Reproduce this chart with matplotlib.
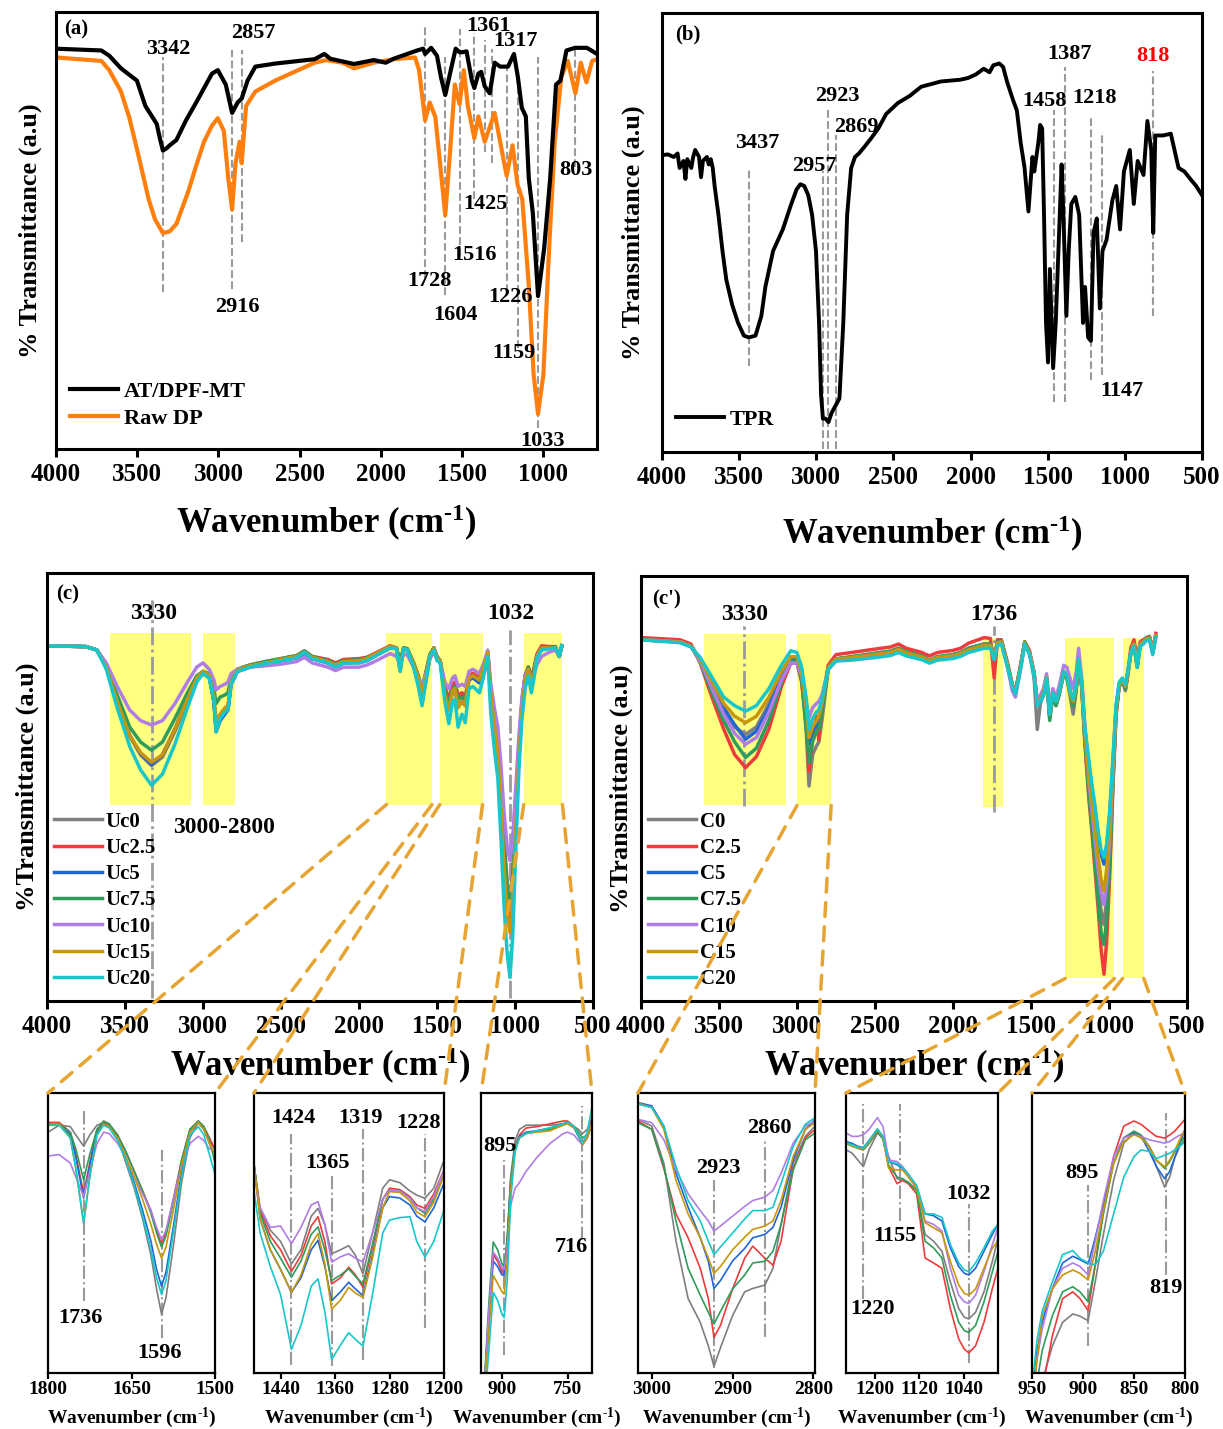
import matplotlib.pyplot as plt
from matplotlib.patches import ConnectionPatch

plt.rcParams['font.family'] = 'Liberation Serif'
plt.rcParams['font.weight'] = 'bold'
plt.rcParams['axes.labelweight'] = 'bold'
plt.rcParams['mathtext.fontset'] = 'custom'
plt.rcParams['mathtext.rm'] = 'Liberation Serif:bold'
plt.rcParams['mathtext.it'] = 'Liberation Serif:bold'
plt.rcParams['mathtext.bf'] = 'Liberation Serif:bold'

XLABEL = 'Wavenumber (cm$^{\u20101}$)'

# ---------------- (a) AT/DPF-MT vs raw DP ----------------
at_wn = [4000, 3721, 3672, 3600, 3502, 3450, 3380, 3360, 3342, 3320, 3300, 3259, 3200, 3137, 3040, 3004,
         2955, 2916, 2882, 2857, 2821, 2773, 2651, 2408, 2348, 2311, 2165, 2044, 1971, 1922, 1777, 1740,
         1728, 1691, 1655, 1630, 1604, 1570, 1540, 1516, 1497, 1473, 1440, 1425, 1400, 1383, 1361, 1330,
         1300, 1266, 1218, 1181, 1157, 1133, 1108, 1090, 1065, 1033, 995, 958, 922, 895, 858, 805, 732, 670]
at_t = [91.6, 91.2, 90, 87.1, 84.3, 78.5, 74.4, 71, 68.3, 68.8, 69.5, 70.7, 75.2, 79.3, 85.9, 86.7,
        83.4, 76.9, 79.3, 80.2, 84.3, 87.5, 88.2, 89.2, 90.4, 89.3, 88.1, 89, 88.4, 89.3, 91.2, 91.6,
        90.4, 91.8, 90, 85, 81, 86.7, 91.6, 90.8, 90.8, 91, 84.3, 82.6, 85.9, 86.3, 83, 81.4,
        88.4, 87.5, 87.5, 90.4, 85.1, 78.1, 76.1, 62, 54, 35, 46, 62, 83.4, 84.3, 91.2, 91.8, 91.8, 90.4]

dp_wn = [4000, 3721, 3672, 3600, 3550, 3502, 3430, 3390, 3342, 3300, 3259, 3186, 3140, 3089, 3040, 3004,
         2967, 2940, 2916, 2895, 2870, 2857, 2830, 2773, 2651, 2408, 2335, 2238, 2165, 2044, 1922, 1790,
         1765, 1728, 1700, 1665, 1604, 1570, 1545, 1516, 1490, 1465, 1425, 1400, 1361, 1300, 1266, 1226,
         1190, 1159, 1130, 1090, 1060, 1033, 1000, 965, 930, 890, 850, 803, 770, 735, 700, 670]
dp_t = [89.6, 88.8, 86.7, 81.8, 76, 68.7, 57.2, 52.5, 49.4, 49.8, 51.5, 58.9, 64.5, 70.3, 74, 75.7,
        72.8, 62.1, 54.8, 65.4, 70.3, 65.4, 78.5, 81.8, 84.3, 88.4, 89, 88.4, 87.1, 88.4, 89.2, 89.6,
        86.7, 75.2, 79.3, 76, 53.5, 70.3, 83.4, 78.9, 86.7, 78.5, 71.1, 76.1, 70.3, 76.9, 70.3, 62.5,
        69.5, 60.5, 57.2, 37.5, 17, 8, 17, 45.7, 70.3, 85.1, 88.8, 81.4, 88.4, 83.9, 88.8, 89.2]

# peak marker lines (wavenumber, top, bottom) and their labels (text, x, y)
a_marks = [(3342, 89.6, 35.9), (2916, 91.2, 36.7), (2857, 91.2, 47.4), (1728, 96.6, 39.2),
           (1604, 89.6, 35.2), (1516, 96.1, 44.1), (1425, 95.3, 57.2), (1361, 93.7, 67.9),
           (1317, 91.6, 65.4), (1226, 87.9, 35.9), (1159, 85.5, 23.2), (1033, 89.6, 4.9),
           (803, 91.6, 64.6)]
a_labels = [('3342', 3307, 91.6), ('2857', 2785, 95.3), ('2916', 2882, 32.6), ('1361', 1335, 96.8),
            ('1317', 1170, 93.3), ('1425', 1356, 56), ('1516', 1424, 44.5), ('1728', 1699, 38.4),
            ('1604', 1541, 30.6), ('1226', 1200, 34.7), ('1159', 1181, 22), ('1033', 1004, 1.9),
            ('803', 800, 63.8)]

# ---------------- (b) TPR ----------------
tpr_wn = [4000, 3962, 3924, 3899, 3886, 3861, 3848, 3836, 3810, 3798,
          3785, 3760, 3747, 3735, 3709, 3697, 3684, 3671, 3659, 3634,
          3608, 3583, 3545, 3507, 3469, 3437, 3394, 3356, 3330, 3280,
          3217, 3166, 3128, 3103, 3078, 3052, 3027, 3002, 2982, 2969,
          2957, 2939, 2921, 2901, 2876, 2850, 2825, 2800, 2774, 2749,
          2724, 2686, 2648, 2598, 2547, 2471, 2395, 2320, 2193, 2067,
          2016, 1966, 1915, 1877, 1852, 1814, 1789, 1764, 1726, 1700,
          1675, 1650, 1625, 1599, 1587, 1561, 1549, 1536, 1524, 1511,
          1498, 1486, 1465, 1448, 1422, 1410, 1397, 1379, 1364, 1347,
          1321, 1296, 1271, 1258, 1238, 1220, 1203, 1182, 1162, 1145,
          1119, 1081, 1056, 1031, 1006, 968, 942, 917, 879, 854,
          829, 816, 803, 753, 702, 652, 614, 576, 538, 500]
tpr_t = [67.6, 67.8, 67.2, 68, 64.7, 66.3, 62.2, 66.7, 64.7, 67.2,
         68.8, 67.2, 62.6, 66.3, 67.2, 65.5, 66.7, 64.7, 60.6, 54,
         45.8, 39.2, 33.5, 29.4, 26.5, 26.1, 26.5, 31, 37.6, 45.8,
         50.7, 56.1, 59.8, 61, 60.6, 58.5, 54, 45.8, 29.4, 13,
         7.6, 7.6, 6.8, 8.9, 10.5, 12.2, 29.4, 54, 64.7, 67.2,
         68, 69.6, 71.3, 73.7, 77, 79.5, 81.1, 83.2, 84.4, 84.8,
         85.2, 86, 87.3, 86.5, 88.1, 88.5, 87.7, 84.4, 80.3, 77.8,
         70.4, 64.7, 54.8, 67.2, 63.9, 70.4, 74.5, 73.7, 54, 29.4,
         20.4, 41.7, 19.1, 29.4, 54, 65.5, 52.4, 31, 45.8, 56.5,
         58.1, 54, 29.4, 37.6, 26.1, 25.3, 49.9, 53.2, 32.7, 45.8,
         48.3, 57.3, 60.6, 50.7, 63.9, 68.8, 56.5, 66.3, 63.1, 75.4,
         68.8, 49.9, 72.1, 72.1, 72.5, 64.7, 63.9, 62.2, 60.6, 58.5]

b_marks = [(3437, 64.7, 19.5), (2957, 63.9, 0.7), (2923, 78.7, 0.7), (2869, 72.1, 0.7),
           (1458, 77.8, 11.3), (1387, 87.7, 11.3), (1218, 76.2, 16.3), (1147, 72.9, 17.5),
           (818, 86.9, 31)]
b_labels = [('3437', 3381, 70.4, 'black'), ('2957', 3014, 65.1, 'black'), ('2923', 2865, 81.1, 'black'),
            ('2869', 2737, 74.1, 'black'), ('1458', 1523, 79.9, 'black'), ('1387', 1359, 90.6, 'black'),
            ('1218', 1195, 80.7, 'black'), ('1147', 1018, 13.8, 'black'), ('818', 816, 90.1, 'red')]

# ---------------- (c) Uc series ----------------
uc_names = ['Uc0', 'Uc2.5', 'Uc5', 'Uc7.5', 'Uc10', 'Uc15', 'Uc20']
c_names = ['C0', 'C2.5', 'C5', 'C7.5', 'C10', 'C15', 'C20']
series_colors = ['#7f7f7f', '#ee3b3b', '#1f66d6', '#2e9c5a', '#b07de6', '#c8960c', '#19c6c9']

wn_c = [4000, 3750, 3680, 3620, 3550, 3470, 3400, 3330, 3260, 3180,
        3100, 3040, 3000, 2960, 2930, 2916, 2890, 2860, 2840, 2820,
        2780, 2700, 2600, 2500, 2400, 2350, 2300, 2200, 2150, 2100,
        2000, 1950, 1900, 1800, 1760, 1736, 1715, 1690, 1650, 1620,
        1596, 1570, 1545, 1520, 1500, 1480, 1450, 1424, 1400, 1385,
        1365, 1340, 1319, 1295, 1270, 1228, 1200, 1175, 1155, 1130,
        1110, 1090, 1070, 1050, 1032, 1015, 995, 975, 955, 935,
        915, 895, 880, 860, 830, 780, 740, 716, 700]
uc0 = [83, 82.8, 82, 78, 70, 62, 57.5, 55, 57, 63,
       70, 75, 76.5, 75.5, 70, 63.5, 66, 67.5, 68, 74,
       77, 78, 78.8, 79.5, 80.2, 81.3, 80, 79, 78, 79,
       79, 79.5, 80.5, 82.5, 82.5, 79.5, 82.3, 82, 78, 74,
       69.5, 75, 80.5, 82.5, 80, 79.5, 73, 69.5, 73.5, 74,
       71.5, 72, 71, 76, 76.5, 75.2, 78, 81.5, 72, 66,
       62, 50, 38, 28, 23, 30, 45, 60, 70, 76,
       78, 75.5, 77, 80.5, 82.5, 82.5, 82.5, 80.5, 83]
uc2_5 = [83, 82.8, 82, 78, 70, 62, 57.8, 55.5, 57.5, 63.5,
         70.5, 75.5, 77, 76, 70, 63.5, 66, 67.5, 68.5, 74.5,
         77.5, 78.5, 79.3, 80, 80.7, 81.8, 80.5, 79.8, 79, 79.8,
         80, 80.3, 81.2, 83, 82.5, 77.5, 82.5, 82.3, 79, 76,
         73, 77, 81, 82.5, 80.5, 79.5, 73.5, 70.5, 74, 74.5,
         71, 72, 70.5, 76, 76.5, 75.5, 78.5, 81.5, 72, 65,
         60, 48, 35, 25, 20, 27, 43, 59, 70, 76,
         78, 76, 77.5, 81, 83, 82.8, 82.8, 80.5, 83]
uc5 = [83, 82.8, 82, 78, 70, 62, 57.8, 55.3, 57.5, 63.5,
       70.5, 75.5, 77, 76, 70, 62.9, 65.5, 67, 68, 74,
       77, 78, 78.8, 79.5, 80.2, 81.3, 80, 79, 78.2, 79,
       79.2, 79.7, 80.7, 82.7, 82.5, 77.8, 82.3, 82, 78.5, 74.5,
       70.5, 75.5, 80.5, 82.5, 80, 79.5, 71.5, 68, 72.5, 73,
       69, 70, 69, 75, 75.5, 74.3, 77.5, 81.5, 71, 64,
       59, 46, 33, 23, 19, 26, 42, 58, 69, 75.5,
       77.5, 75, 76.5, 80.5, 82.5, 82.5, 82.5, 80.5, 83]
uc7_5 = [83, 82.8, 82, 78.5, 71.5, 64, 60.5, 58.6, 60.5, 66,
         72, 76, 77, 76.5, 73, 69.5, 71, 71.5, 72, 75.5,
         77.5, 78.5, 79.3, 80, 80.7, 81.8, 80.5, 79.5, 78.8, 79.5,
         79.7, 80.2, 81, 82.8, 82.5, 79, 82.5, 82.3, 79, 76,
         73, 77, 81, 82.5, 80.5, 79.5, 72.5, 69.5, 73, 73.5,
         70.5, 71, 70, 75.5, 76, 75, 78, 81.5, 72, 65.5,
         61, 49, 36, 26, 22, 29, 44, 59, 70, 76,
         78, 75.5, 77, 80.5, 82.5, 82.5, 82.5, 80.5, 83]
uc10 = [83, 82.8, 82, 79, 73.5, 68, 65.5, 64.5, 65.5, 69.5,
        74.5, 78, 79, 77.5, 75, 72.7, 73.5, 74, 74.5, 76.5,
        77.5, 78, 78.3, 78.7, 79.3, 80.3, 79, 78, 77.2, 78,
        78, 78.5, 79.3, 81.2, 80.5, 78.5, 81, 80.8, 78, 75.5,
        73.5, 76.5, 80, 81.5, 80, 79.5, 74.5, 73, 75.5, 76,
        73.5, 74, 73.5, 77, 77.5, 76.5, 79, 82, 74, 68,
        64, 55, 44, 36, 32.8, 38, 50, 62, 71, 76,
        77.5, 75, 76, 78.5, 80.5, 81.5, 82, 80.5, 83]
uc15 = [83, 82.8, 82, 78, 70, 62, 58, 55.8, 57.5, 63.5,
        70.5, 75.5, 77, 76, 71, 65.5, 67, 68.5, 69, 74.5,
        77.3, 78.3, 79, 79.8, 80.5, 81.5, 80.3, 79.3, 78.5, 79.3,
        79.5, 80, 81, 82.8, 82.5, 77, 82.3, 82, 78.8, 75.5,
        72, 76, 80.5, 82.5, 80, 79.5, 71.5, 68, 72.5, 73,
        68.5, 70, 69, 75.5, 76, 75, 78, 81.5, 71.5, 64,
        58, 45, 31, 20, 16, 24, 40, 57, 68, 75,
        77.5, 74, 76, 80.5, 82.5, 82.5, 82.5, 80.5, 83]
uc20 = [83, 82.8, 82, 77.5, 68.5, 59.5, 54, 50.4, 53, 60,
        68.5, 74.5, 76.5, 75.5, 70, 62.9, 66, 67.5, 68, 74,
        77, 78, 78.8, 79.5, 80.2, 81.5, 80, 79, 78, 79,
        79, 79.5, 80.5, 82.5, 82.3, 77, 82.3, 82, 78, 73.5,
        69, 75, 80.5, 82, 79.5, 79, 70, 64.8, 70, 70.5,
        64, 67, 65, 73, 73.5, 72, 76, 80.5, 67, 58,
        52, 38, 22, 11, 5.5, 15, 35, 54, 66, 73,
        76, 72, 75, 80, 82, 82.3, 82.5, 80.5, 83]

# zoom windows of (c)
ins1_wn = [1800, 1780, 1760, 1750, 1736, 1725, 1712, 1700, 1690, 1675, 1660, 1645,
           1630, 1615, 1605, 1596, 1588, 1575, 1560, 1545, 1530, 1520, 1510, 1500]
ins1_t = [
    [86, 88.5, 88, 85, 81, 85, 88.5, 89.5, 88.5, 84, 75, 66, 55, 42, 30, 21, 27, 45, 68, 84, 89.5, 87, 83, 80],
    [89.5, 89.5, 86, 78, 64, 75, 87, 89.5, 88.5, 85, 79, 72, 65, 58, 51, 46, 50, 62, 76, 87, 90, 88, 84, 80],
    [89, 89, 85, 77, 62.5, 74, 86, 89, 88, 84, 77, 68, 58, 47, 37, 31, 36, 52, 72, 86, 89.5, 87, 82, 78],
    [89, 89, 86, 80, 69, 78, 87, 90, 89, 85, 79, 72, 65, 57, 50, 45, 49, 61, 76, 87, 90, 88, 83, 75],
    [77.5, 78, 75, 70, 63, 72, 82, 86, 85.5, 82, 77, 70, 64, 58, 52, 47.5, 51, 62, 74, 82, 84.5, 83, 80, 80],
    [89, 89, 84, 73, 53.5, 70, 85, 89, 88, 84, 77, 70, 62, 53, 46, 41, 45, 58, 74, 86, 89.5, 87, 82, 78],
    [88.5, 88.5, 84, 73, 53.5, 70, 85, 88.5, 87.5, 83, 76, 67, 56, 44, 34, 28, 33, 50, 70, 85, 88, 85, 78, 71],
]
ins2_wn = [1480, 1470, 1455, 1440, 1424, 1410, 1395, 1385, 1375, 1365, 1352, 1340,
           1330, 1319, 1305, 1290, 1280, 1265, 1250, 1240, 1228, 1215, 1200]
ins2_t = [
    [76, 59, 51, 47, 39, 44, 56, 58.8, 53, 42.6, 44, 45.5, 42, 35.4, 50, 66, 69, 68, 65, 63.5, 62.4, 66, 76],
    [76, 58, 49, 44, 36.3, 42, 52.5, 55.8, 47, 31.8, 34, 37.8, 35, 30.6, 45, 62, 66, 65.5, 63, 60, 58.8, 64, 72.6],
    [77, 55, 44, 37, 28.8, 34, 44, 47.4, 38, 25.8, 29, 32.4, 30, 27.6, 42, 59, 63, 62.5, 60, 56, 54, 59, 67.8],
    [76.5, 57, 47, 41, 34.2, 40, 49.5, 52.2, 44, 33, 35, 37.2, 34.5, 31.8, 46, 62, 65.4, 65, 62.5, 59, 57, 62, 70.8],
    [72, 59, 52, 52.5, 46.2, 52, 60, 61.2, 53, 39.6, 41.5, 42.6, 41, 39.6, 50, 62, 65.4, 65, 62.5, 59, 57.6, 63, 72.6],
    [77, 55, 44, 37, 28.8, 35, 46, 49.8, 39, 22.8, 26, 30.6, 28.5, 27, 41, 59, 64.8, 64.5, 61.5, 57.5, 55.8, 61, 70.8],
    [66.6, 50, 38, 28, 8.4, 17, 31, 33.6, 22, 4.8, 10, 14.4, 12, 9.6, 28, 50, 54.6, 55.5, 55.8, 47, 41.4, 47, 58.2],
]
ins3_wn = [948, 940, 930, 920, 910, 900, 895, 888, 880, 870, 860,
           845, 820, 790, 760, 750, 735, 725, 716, 705, 694]
ins3_t = [
    [-25, -5, 20, 42, 40, 37, 36, 48, 70, 83, 87, 88.5, 88.5, 88.5, 89, 89.5, 88, 87, 85.5, 87, 91],
    [-25, -5, 22, 42.6, 40, 36, 35.4, 47, 68, 81, 85, 87.5, 88, 89, 90, 90, 88, 85, 81.5, 84, 90],
    [-25, -3, 20, 40, 38, 35, 35, 46, 68, 81, 84.5, 86, 86.5, 87.5, 89, 89.5, 87.5, 84.5, 81.6, 84, 89],
    [-25, -2, 25, 46.8, 44, 39, 37.8, 48, 69, 81, 84, 85.5, 86.5, 87, 89, 89.5, 88, 86, 84, 85, 89],
    [-25, -4, 22, 43.2, 41, 37.5, 37, 45, 60, 66, 68, 72, 77, 82, 85.5, 86, 85, 83, 81.6, 84, 89],
    [-25, -8, 15, 34.8, 32, 29, 28.2, 40, 65, 80, 84, 85.5, 86, 86.5, 88.5, 89, 87.5, 85, 81.6, 84, 89],
    [-25, -12, 8, 28.8, 26, 21, 19.8, 33, 62, 79, 84, 85.5, 86.5, 87.5, 89, 89.5, 88, 85, 82, 86, 95],
]

# ---------------- (c') C series ----------------
wn_cp = [4000, 3750, 3680, 3620, 3550, 3470, 3400, 3330, 3260, 3180,
         3100, 3040, 3000, 2970, 2940, 2923, 2900, 2875, 2860, 2840,
         2800, 2750, 2650, 2500, 2400, 2350, 2300, 2200, 2150, 2100,
         2000, 1950, 1900, 1800, 1760, 1736, 1715, 1690, 1650, 1620,
         1600, 1570, 1540, 1510, 1480, 1460, 1440, 1420, 1400, 1380,
         1360, 1340, 1320, 1290, 1270, 1250, 1230, 1210, 1195, 1175,
         1155, 1130, 1110, 1090, 1070, 1050, 1032, 1015, 995, 975,
         955, 935, 915, 895, 880, 860, 840, 819, 800, 780,
         760, 740, 720, 700]
c0 = [85, 84.5, 83.5, 80, 74, 68, 64.5, 62.7, 64.5, 70,
      77, 80.5, 80, 76, 63, 50.6, 58, 60, 61, 66,
      78, 80.5, 81, 81.8, 82.3, 83, 82.2, 81.2, 80.2, 81,
      81.5, 82, 83, 84, 84, 81, 84.5, 84.8, 79, 74,
      72.5, 78, 84.5, 82, 76, 63.9, 70, 72, 76, 66.5,
      72, 69.5, 72, 77, 76, 72, 67.5, 73, 80, 74,
      62, 50, 43, 36, 28, 21, 18, 24, 35, 52,
      68, 74, 75.3, 73, 76.5, 82, 84, 79, 84, 84.5,
      85.3, 85.5, 82, 86]
c2_5 = [85.5, 85, 84, 79.5, 72, 64, 58, 54.9, 57.5, 64,
        74, 79.5, 79.5, 75, 65, 54.1, 62, 67, 61.5, 70,
        79, 81.5, 82, 82.8, 83.3, 84, 83, 82, 81.2, 82,
        82.5, 83, 84.2, 85.5, 85.3, 76, 85, 85, 79.5, 74.5,
        73, 78.5, 84.5, 82.5, 77, 69.8, 71, 72.5, 76, 67,
        72.5, 70, 72.5, 77.5, 76.5, 72.5, 70, 74, 80.5, 74,
        61, 48, 40, 31, 22, 12, 6.3, 14, 30, 50,
        67, 74, 75.5, 73.5, 77, 83, 85, 80.5, 84.5, 85,
        85.5, 85.8, 82.5, 86.5]
c5 = [85, 84.5, 83.5, 80.5, 75, 69, 65, 61.6, 63.5, 69,
      76.5, 80.5, 80.5, 77, 68, 60.4, 63.5, 65, 66, 69,
      78.5, 80.5, 80.8, 81.5, 82, 82.7, 81.9, 80.9, 80, 80.8,
      81.2, 81.7, 82.6, 83.7, 83.6, 80.5, 84.2, 84.5, 79, 74.3,
      72.5, 78, 84.3, 82, 77, 69.8, 71, 72.5, 76.2, 67.5,
      72.5, 70.5, 72.5, 77.5, 76.5, 73, 71, 74.5, 80.5, 75,
      64, 56, 50, 45, 39, 34.5, 32.2, 36, 44, 56,
      69, 74.5, 75.5, 74, 77, 82, 84, 78.5, 84, 84.5,
      85.2, 85.4, 82, 86]
c7_5 = [85, 84.5, 83.5, 79.8, 73, 66, 61, 57.3, 59.5, 66,
        75, 80, 80, 75.5, 64, 56.1, 61, 63.5, 64, 68,
        78.3, 80.5, 81, 81.8, 82.3, 83, 82.2, 81.2, 80.2, 81,
        81.5, 82, 83, 84, 84, 80.8, 84.5, 84.8, 79, 74,
        72.5, 78, 84.5, 82, 77, 69.8, 70.5, 72, 76, 66,
        72, 69.5, 72, 77, 76, 72.5, 69.5, 73.5, 80, 74,
        61.5, 49, 41, 33, 24, 16, 13.3, 19, 32, 51,
        67.5, 74, 75.3, 73.5, 76.5, 82, 84, 79.5, 84, 84.5,
        85.3, 85.5, 82, 86]
c10 = [85, 84.5, 83.5, 80, 74, 67.5, 63, 60.4, 62, 68,
       75.5, 79.5, 79.5, 76.5, 70, 66.7, 69, 70, 70.5, 72,
       78, 80, 80.7, 81.5, 82, 82.7, 81.9, 80.9, 80, 80.8,
       81.2, 81.7, 82.6, 83.7, 83.6, 80.8, 84.2, 84.5, 78.5, 73,
       71.5, 77.5, 84, 82, 77.5, 70.5, 72, 73.5, 77, 69,
       73.5, 71.5, 74, 79, 78.5, 76, 73.5, 77.5, 83, 76,
       65, 52, 45, 38, 31, 25.5, 22.7, 28, 38, 54,
       68.5, 74.5, 75.5, 74, 77, 82, 84, 79.5, 84, 84.5,
       85.2, 85.4, 82, 86]
c15 = [85, 84.5, 83.5, 80.5, 75.5, 70, 67, 65.5, 67, 71.5,
       77.5, 81, 81, 77.5, 69, 62, 64.5, 66, 67, 70,
       78.5, 80.5, 80.8, 81.5, 82, 82.7, 81.9, 80.9, 80, 80.8,
       81.2, 81.7, 82.6, 83.7, 83.6, 80.5, 84.2, 84.5, 79, 74.3,
       72.5, 78, 84.3, 82, 77, 69.8, 71, 72.5, 76.2, 67.5,
       72.5, 70.5, 72.5, 77.5, 76.5, 72.5, 70.5, 74, 80.5, 74.5,
       63, 53, 47, 41, 34, 28.5, 25.9, 31, 40, 55,
       69, 74.5, 75.5, 74, 77, 82, 84, 78.5, 84, 84.5,
       85.2, 85.4, 82, 86]
c20 = [85, 84.3, 83.3, 80.8, 76.5, 71.5, 69.5, 68.2, 69.5, 73.5,
       79, 82.4, 82, 78.5, 71, 63.9, 66.5, 68, 68.5, 71,
       78, 80, 80.2, 80.8, 81.3, 82, 81.2, 80.3, 79.5, 80.2,
       80.6, 81.1, 82, 83, 83, 80.3, 83.6, 84, 78.5, 74,
       72.2, 77.5, 84, 81.5, 76.5, 69.5, 70.5, 72, 76, 67.5,
       72.5, 70.5, 72.5, 77.5, 76.5, 73, 71, 74.5, 80.5, 75,
       64.5, 57, 51, 46, 40, 35.5, 33.7, 37, 45, 57,
       69.5, 75, 76, 74.5, 77.5, 82, 83.5, 78.5, 83.5, 84,
       84.8, 85, 81.5, 85.5]

# zoom windows of (c')
ins4_wn = [3017, 3000, 2985, 2970, 2955, 2940, 2930, 2923, 2915,
           2900, 2885, 2875, 2860, 2850, 2840, 2825, 2810, 2798]
ins4_t = [
    [90.6, 88.2, 74.9, 47.1, 26.6, 18.1, 9.7, 2.4, 9, 20.5, 29, 30.2, 31.4, 37.4, 53.1, 74.9, 84.5, 88.2],
    [90, 87, 73, 56.8, 48.3, 37.4, 26.6, 12.7, 17, 30, 41, 45.3, 41, 38.5, 47, 73, 84, 87],
    [96.6, 95.4, 88.2, 71.3, 59.2, 48.3, 39.9, 30.2, 33, 40, 44.5, 48.3, 49.5, 52, 59.2, 76.1, 87, 90.6],
    [89.4, 87, 73.7, 54.3, 37.4, 27.8, 21.7, 17.5, 22, 30, 35, 39.3, 39.9, 43.5, 53.1, 72.5, 83.3, 85.7],
    [90.6, 89.4, 83.3, 72.5, 64, 58, 54.3, 50.7, 52.5, 56, 59.5, 61.6, 62.8, 65.2, 71.3, 82.1, 88.2, 90],
    [96.4, 94.8, 87, 68.8, 56.8, 48.3, 41.1, 35.6, 38, 44, 48.5, 51.3, 52.5, 54.3, 61.6, 77.3, 87, 89.4],
    [96, 94.8, 88.2, 73.7, 61.6, 54.3, 47.1, 42.3, 45, 50, 55, 58, 58, 59.2, 67.6, 80.9, 88.8, 91.2],
]
ins5_wn = [1251, 1240, 1230, 1220, 1210, 1195, 1185, 1175, 1160, 1150, 1140, 1125,
           1110, 1095, 1080, 1065, 1050, 1040, 1032, 1020, 1005, 990, 980]
ins5_t = [
    [79.7, 78.5, 76.1, 73.7, 79.7, 85.7, 84, 77.3, 69.4, 68.8, 68.2, 65.2, 49.5, 47.1, 43.5, 32.6, 23, 19.9, 19.3, 21.7, 29, 39.9, 48.3],
    [82.7, 81.5, 80.3, 79.7, 82, 86.4, 83.5, 73.7, 67.6, 68.8, 67.6, 64, 41.1, 39.3, 37.4, 23, 12.1, 8.5, 7.2, 9.7, 18.1, 30.2, 37.4],
    [82.7, 82, 81, 80.5, 83, 87, 84.5, 75.5, 74.4, 73.1, 71, 66.4, 56.8, 56.2, 54.3, 44.7, 38, 35.6, 35, 37.4, 43.5, 49.5, 53.1],
    [82, 81, 80.3, 79.7, 82, 86.4, 83.5, 74.3, 70, 69.4, 68, 65.2, 47.1, 44.7, 41.1, 27.8, 18.1, 15.1, 14.5, 17, 25.4, 36.2, 43.5],
    [85.7, 84.5, 84.5, 85.1, 87, 91.2, 88, 76.1, 75.5, 73.7, 71, 66.4, 54.3, 53.1, 50.7, 37.4, 27.8, 25.4, 24.8, 27.8, 36.2, 45.9, 51.9],
    [82, 81, 80.5, 80, 82.5, 87, 84, 73.1, 72.5, 72.5, 70, 65.8, 53.7, 51.9, 50.1, 39.9, 31.4, 28.4, 27.8, 30, 37.4, 44.7, 47.1],
    [82.3, 81.5, 80.8, 80.3, 83, 87.2, 84.5, 75.5, 74.8, 73.4, 71, 67, 56.8, 56.8, 55.6, 45.9, 39.3, 36.8, 36.2, 39.3, 44.7, 50.7, 53.1],
]
ins6_wn = [950, 945, 940, 930, 920, 910, 903, 895, 888, 880, 870,
           860, 850, 843, 835, 828, 820, 815, 810, 805, 800]
ins6_t = [
    [-20, -12, -3, 9.7, 18.1, 21.1, 20.3, 18.7, 32.6, 49.5, 68.8, 82.1, 85.7, 84, 80.9, 73.7, 66.4, 70, 77, 81, 83.3],
    [-25, -15, -6, 13.3, 26.6, 29, 26.6, 22.3, 38.6, 59.2, 77.3, 88.2, 90, 88.8, 86.4, 84.5, 83.9, 85, 86.4, 88.5, 90.6],
    [-8, 8, 18.1, 30.2, 39.3, 41.7, 40.5, 38.9, 48.3, 60.4, 74.9, 84, 85.7, 84.5, 79.1, 73.7, 69.4, 72, 77, 82, 87],
    [-15, -3, 8, 20.5, 29, 30.8, 29, 25.4, 38.6, 56.8, 74.9, 84, 86.4, 85, 80.9, 76, 73.1, 75.5, 79, 82, 84.5],
    [-12, 5, 15.7, 30, 37.4, 39.3, 38.1, 35, 47.1, 61.6, 77.3, 84, 85.1, 84.5, 83.3, 82.7, 82.1, 82.7, 83.9, 85, 85.7],
    [-12, 5, 20.5, 30, 35, 36.8, 35.6, 33.2, 43.5, 58, 74.9, 82.7, 85.1, 84, 80.9, 76, 73.7, 76, 79.5, 83.5, 87],
    [-5, 12, 22, 32.6, 42.3, 43.7, 41, 39.3, 38.6, 43.5, 56.8, 70, 77.3, 79.7, 79.1, 76.6, 77.8, 78.5, 79.7, 81, 82.7],
]

# highlighted windows (wn_hi, wn_lo, t_lo, t_hi)
c_boxes = [(3599, 3074, 45.9, 85.9), (3003, 2793, 45.9, 85.9), (1824, 1532, 45.9, 85.9),
           (1482, 1208, 45.9, 85.9), (944, 696, 45.9, 85.9)]
cp_boxes = [(3598, 3070, 46, 86.3), (3000, 2781, 46, 86.3), (1808, 1682, 45.6, 85.5),
            (1280, 966, 5.3, 85.5), (913, 777, 5.3, 85.5)]

W, H = 1223, 1429
fig = plt.figure(figsize=(W / 100, H / 100), dpi=100)


def px_axes(l, t, r, b):
    return fig.add_axes([l / W, 1 - b / H, (r - l) / W, (b - t) / H])


def frame(ax, xlim, ticks, size, lw, tick_len, pad):
    ax.set_xlim(*xlim)
    ax.set_ylim(0, 100)
    ax.set_xticks(ticks)
    ax.set_yticks([])
    ax.tick_params(axis='x', direction='out', length=tick_len, width=lw,
                   labelsize=size, pad=pad)
    for s in ax.spines.values():
        s.set_linewidth(lw)


def vmark(ax, x, top, bottom, ls='--', lw=1.5):
    ax.plot([x, x], [bottom, top], color='#9a9a9a', ls=ls, lw=lw, zorder=1)


ax_a = px_axes(56, 12, 597, 449)
ax_b = px_axes(662, 13, 1202, 452)
ax_c = px_axes(47, 573, 593, 1001)
ax_cp = px_axes(641, 576, 1187, 1001)

# (a)
for x, top, bot in a_marks:
    vmark(ax_a, x, top, bot)
ax_a.plot(at_wn, at_t, color='black', lw=3, label='AT/DPF-MT', zorder=3)
ax_a.plot(dp_wn, dp_t, color='#ff7f0e', lw=3, label='Raw DP', zorder=2)
for txt, x, y in a_labels:
    ax_a.text(x, y, txt, ha='center', va='center', fontsize=16)
frame(ax_a, (4000, 670), [4000, 3500, 3000, 2500, 2000, 1500, 1000], 18, 2.2, 6, 4)
ax_a.text(0.037, 0.96, '(a)', transform=ax_a.transAxes, ha='center', va='center', fontsize=15)
ax_a.legend(loc='lower left', bbox_to_anchor=(-0.012, 0.0), frameon=False, fontsize=16,
            handlelength=2.2, handletextpad=0.25, labelspacing=0.3)
ax_a.set_xlabel(XLABEL, fontsize=25, labelpad=12)
ax_a.set_ylabel('% Transmittance (a.u)', fontsize=19, labelpad=10)

# (b)
for x, top, bot in b_marks:
    vmark(ax_b, x, top, bot)
ax_b.plot(tpr_wn, tpr_t, color='black', lw=2.8, label='TPR', zorder=3)
for txt, x, y, col in b_labels:
    ax_b.text(x, y, txt, ha='center', va='center', fontsize=16, color=col)
frame(ax_b, (4000, 500), [4000, 3500, 3000, 2500, 2000, 1500, 1000, 500], 18, 2.2, 6, 4)
ax_b.text(0.047, 0.95, '(b)', transform=ax_b.transAxes, ha='center', va='center', fontsize=15)
ax_b.legend(loc='lower left', bbox_to_anchor=(-0.012, 0.005), frameon=False, fontsize=16,
            handlelength=2.2, handletextpad=0.25)
ax_b.set_xlabel(XLABEL, fontsize=25, labelpad=18)
ax_b.set_ylabel('% Transmittance (a.u)', fontsize=19, labelpad=12)

# (c)
for x0, x1, y0, y1 in c_boxes:
    ax_c.axvspan(x0, x1, y0 / 100, y1 / 100, color='#ffff80', lw=0, zorder=0)
for series, name, col in zip([uc0, uc2_5, uc5, uc7_5, uc10, uc15, uc20], uc_names, series_colors):
    ax_c.plot(wn_c, series, color=col, lw=2.5, label=name, zorder=2)
vmark(ax_c, 3330, 93.8, 0.8, ls='-.', lw=2)
vmark(ax_c, 1032, 86.7, 0.8, ls='-.', lw=2)
ax_c.text(3315, 90.6, '3330', ha='center', va='center', fontsize=17)
ax_c.text(1025, 90.6, '1032', ha='center', va='center', fontsize=17)
ax_c.text(2864, 40.6, '3000-2800', ha='center', va='center', fontsize=17)
frame(ax_c, (4000, 500), [4000, 3500, 3000, 2500, 2000, 1500, 1000, 500], 18, 2.2, 6, 4)
ax_c.text(0.038, 0.95, '(c)', transform=ax_c.transAxes, ha='center', va='center', fontsize=15)
ax_c.legend(loc='lower left', bbox_to_anchor=(-0.022, -0.016), frameon=False, fontsize=15,
            handlelength=2.3, handletextpad=0.2, labelspacing=0.3)
ax_c.set_xlabel(XLABEL, fontsize=25, labelpad=6)
ax_c.set_ylabel('%Transmittance (a.u)', fontsize=19, labelpad=6)

# (c')
for x0, x1, y0, y1 in cp_boxes:
    ax_cp.axvspan(x0, x1, y0 / 100, y1 / 100, color='#ffff80', lw=0, zorder=0)
for series, name, col in zip([c0, c2_5, c5, c7_5, c10, c15, c20], c_names, series_colors):
    ax_cp.plot(wn_cp, series, color=col, lw=2.5, label=name, zorder=2)
vmark(ax_cp, 3341, 88.2, 45.9, ls='-.', lw=2)
vmark(ax_cp, 1736, 88.2, 44.5, ls='-.', lw=2)
ax_cp.text(3334, 91, '3330', ha='center', va='center', fontsize=17)
ax_cp.text(1737, 91, '1736', ha='center', va='center', fontsize=17)
frame(ax_cp, (4000, 500), [4000, 3500, 3000, 2500, 2000, 1500, 1000, 500], 18, 2.2, 6, 4)
ax_cp.text(0.047, 0.945, "(c')", transform=ax_cp.transAxes, ha='center', va='center', fontsize=15)
ax_cp.legend(loc='lower left', bbox_to_anchor=(-0.022, -0.016), frameon=False, fontsize=15,
             handlelength=2.3, handletextpad=0.2, labelspacing=0.3)
ax_cp.set_xlabel(XLABEL, fontsize=25, labelpad=6)
ax_cp.set_ylabel('%Transmittance (a.u)', fontsize=19, labelpad=6)

# zoomed windows
insets = [
    ((48, 1093, 215, 1373), (1800, 1500), [1800, 1650, 1500], ins1_wn, ins1_t,
     [(1736, 94.5, 25.8), (1596, 79.8, 12.6)], [('1736', 1741, 19.8), ('1596', 1600, 7.2)]),
    ((254, 1093, 444, 1373), (1479, 1200), [1440, 1360, 1280, 1200], ins2_wn, ins2_t,
     [(1424, 85.2, 3), (1365, 70.8, 2.4), (1319, 87, 4.8), (1228, 85.2, 16.2)],
     [('1424', 1421, 91.2), ('1365', 1371, 75), ('1319', 1323, 91.2), ('1228', 1237, 89.4)]),
    ((481, 1093, 592, 1373), (948, 694), [900, 750], ins3_wn, ins3_t,
     [(895, 76.2, 6.6), (716, 95.4, 47.4)], [('895', 905, 81), ('716', 741, 45)]),
    ((638, 1093, 815, 1373), (3017, 2798), [3000, 2900, 2800], ins4_wn, ins4_t,
     [(2923, 68.8, 1.8), (2860, 82.7, 12.7)], [('2923', 2918, 73.1), ('2860', 2854, 87.6)]),
    ((846, 1093, 998, 1373), (1251, 980), [1200, 1120, 1040], ins5_wn, ins5_t,
     [(1220, 96, 26.6), (1155, 96, 54.3), (1032, 60.4, 3.6)],
     [('1220', 1203, 22.9), ('1155', 1164, 48.9), ('1032', 1032, 64)]),
    ((1032, 1093, 1185, 1373), (950, 800), [950, 900, 850, 800], ins6_wn, ins6_t,
     [(895, 67, 9.7), (819, 93, 35)], [('895', 901, 71.3), ('819', 819, 30.2)]),
]
inset_axes = []
for rect, xlim, ticks, wn, curves, marks, labels in insets:
    ax = px_axes(*rect)
    for t, col in zip(curves, series_colors):
        ax.plot(wn, t, color=col, lw=1.2, zorder=2)
    for x, top, bot in marks:
        vmark(ax, x, top, bot, ls='-.', lw=1.5)
    for txt, x, y in labels:
        ax.text(x, y, txt, ha='center', va='center', fontsize=16)
    frame(ax, xlim, ticks, 14, 1.6, 4, 2)
    ax.set_xlabel(XLABEL, fontsize=14, labelpad=5)
    inset_axes.append(ax)

# dashed connectors from highlighted windows to the zoomed panels
links = [(ax_c, c_boxes[2], inset_axes[0]), (ax_c, c_boxes[3], inset_axes[1]),
         (ax_c, c_boxes[4], inset_axes[2]), (ax_cp, cp_boxes[1], inset_axes[3]),
         (ax_cp, cp_boxes[3], inset_axes[4]), (ax_cp, cp_boxes[4], inset_axes[5])]
for src, (x0, x1, y0, y1), dst in links:
    for xa, xb in [(x0, 0), (x1, 1)]:
        con = ConnectionPatch(xyA=(xa, y0), coordsA=src.transData, xyB=(xb, 1), coordsB=dst.transAxes,
                              color='#e6a532', lw=2.5, ls=(0, (4, 3)), zorder=5)
        fig.add_artist(con)

fig.savefig('out.png', dpi=100)
